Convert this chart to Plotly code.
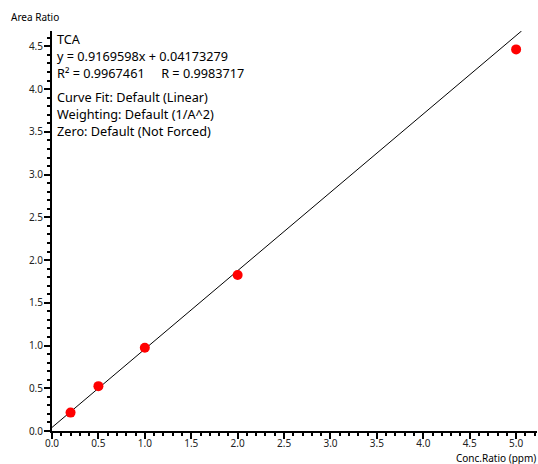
import plotly.graph_objects as go

conc = [0.2, 0.5, 1.0, 2.0, 5.0]
area = [0.215, 0.525, 0.975, 1.825, 4.465]
slope = 0.9169598
intercept = 0.04173279
fit_x = [0.0, 5.06]
fit_y = [slope * x + intercept for x in fit_x]

ann_lines = ["TCA", "y = 0.9169598x + 0.04173279",
             "R² = 0.9967461\u00a0\u00a0\u00a0\u00a0\u00a0R = 0.9983717"]
ann_lines2 = ["Curve Fit: Default (Linear)", "Weighting: Default (1/A^2)", "Zero: Default (Not Forced)"]

font = "Noto Sans"
fig = go.Figure()
fig.add_trace(go.Scatter(x=fit_x, y=fit_y, mode="lines", line=dict(color="black", width=1), hoverinfo="skip"))
fig.add_trace(go.Scatter(x=conc, y=area, mode="markers", marker=dict(color="#ff0000", size=10)))

axis_common = dict(showgrid=False, zeroline=False, showline=True, linecolor="black", linewidth=2,
                   ticks="outside", ticklen=6, tickwidth=2, tickcolor="black",
                   tickfont=dict(family=font, size=10, color="#222"),
                   minor=dict(ticks="outside", ticklen=3, tickwidth=1.5, tickcolor="black", dtick=0.1))
fig.update_xaxes(range=[0, 5.225], dtick=0.5, tickformat=".1f", ticklabelstandoff=-4, **axis_common)
fig.update_yaxes(range=[0, 4.68], dtick=0.5, tickformat=".1f", ticklabelstandoff=-1, **axis_common)

L, R, T, B = 52, 1, 31, 33
W, H = 538, 464
fig.update_layout(width=W, height=H, margin=dict(l=L, r=R, t=T, b=B),
                  plot_bgcolor="white", paper_bgcolor="white", showlegend=False,
                  font=dict(family=font))

pw, ph = W - L - R, H - T - B


def px2paper(x, y):
    return (x - L) / pw, (H - B - y) / ph


annotations = []
for i, t in enumerate(ann_lines):
    annotations.append((55, 39 + 16.8 * i, t))
for i, t in enumerate(ann_lines2):
    annotations.append((55, 97 + 16.8 * i, t))
for x, y, t in annotations:
    px, py = px2paper(x, y)
    fig.add_annotation(x=px, y=py, xref="paper", yref="paper",
                       xanchor="left", yanchor="middle", text=t, showarrow=False,
                       font=dict(family=font, size=12.7, color="black"))
px, py = px2paper(9, 17)
fig.add_annotation(x=px, y=py, xref="paper", yref="paper", xanchor="left", yanchor="middle",
                   text="Area Ratio", showarrow=False, font=dict(family=font, size=10, color="black"))
px, py = px2paper(538, 458)
fig.add_annotation(x=px, y=py, xref="paper", yref="paper", xanchor="right", yanchor="middle",
                   text="Conc.Ratio (ppm)", showarrow=False, font=dict(family=font, size=10, color="black"))

fig.write_html("out.html")
